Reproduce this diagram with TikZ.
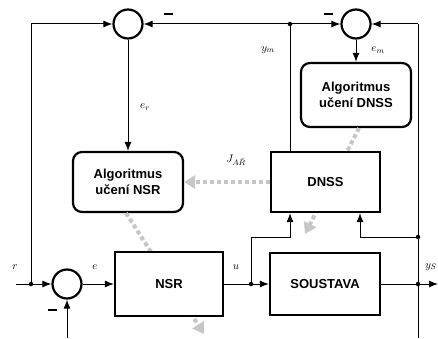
\documentclass[tikz,border=0pt]{standalone}
\usepackage{fontspec}
\setmainfont{Liberation Sans}
\usetikzlibrary{arrows.meta}

\begin{document}
\begin{tikzpicture}[x=1pt,y=1pt,
  blok/.style={draw,line width=2.2pt,fill=white,minimum width=108,minimum height=62,inner sep=0,align=center,font=\fontsize{13}{16}\bfseries\selectfont},
  ucblok/.style={blok,rounded corners=9pt,minimum width=110},
  soucet/.style={circle,draw,line width=2.2pt,minimum size=29,inner sep=0,fill=white},
  sig/.style={line width=1pt,-{Latex[length=9,width=7]}},
  spoj/.style={circle,fill,inner sep=0,minimum size=4.5},
  uceni/.style={line width=4pt,color=gray!45,dash pattern=on 4pt off 3pt,-{Triangle[length=11,width=13]}},
  popis/.style={font=\fontsize{11}{12}\selectfont},
  minus/.style={inner sep=0}]
\useasboundingbox (0,0) rectangle (438,338);
\node[soucet] (s1) at (128,314) {};
\node[soucet] (s2) at (356,314) {};
\node[soucet] (s3) at (67,54) {};
\node[ucblok,minimum height=60] (algNSR) at (128,156) {Algoritmus\\učení NSR};
\node[ucblok,minimum height=64] (algDNSS) at (356,243) {Algoritmus\\učení DNSS};
\coordinate (hrotNSR) at (204,4);
\coordinate (hrotDNSS) at (305,104);
\draw[uceni] ([xshift=-2pt]algNSR.south) -- (hrotNSR);
\draw[uceni] ([xshift=3pt]algDNSS.south) -- (hrotDNSS);
\node[blok,minimum height=60,minimum width=109] (DNSS) at (325.5,156) {DNSS};
\node[blok,minimum height=64] (NSR) at (169,54) {NSR};
\node[blok,minimum width=110] (SOUST) at (325,54) {SOUSTAVA};
\draw[uceni] (DNSS.west) -- (algNSR.east);
\coordinate (rin) at (16,54);
\coordinate (rj) at (31,54);
\coordinate (uj) at (251,54);
\coordinate (ysj) at (418,54);
\coordinate (yout) at (438,54);
\coordinate (yj2) at (418,101);
\coordinate (vstupL) at (290,101);
\coordinate (ymj) at (290,314);
\coordinate (pravyH) at (418,314);
\coordinate (pravyD) at (418,0);
\coordinate (dole) at (67,0);
\draw[sig] (rin) -- (s3.west);
\draw[sig] (rj) |- (s1.west);
\draw[sig] (dole) -- (s3.south);
\draw[sig] (s3.east) -- (NSR.west);
\draw (NSR.east) -- (uj);
\draw[sig] (uj) -- (SOUST.west);
\draw[sig] (uj) |- (vstupL) -- (vstupL |- DNSS.south);
\draw[sig] (SOUST.east) -- (yout);
\draw (pravyD) -- (pravyH);
\draw[sig] (pravyH) -- (s2.east);
\draw[sig] (yj2) -| ([xshift=34.5pt]DNSS.south);
\draw (ymj |- DNSS.north) -- (ymj);
\draw[sig] (ymj) -- (s1.east);
\draw[sig] (ymj) -- (s2.west);
\draw[sig] (s1.south) -- (algNSR.north);
\draw[sig] (s2.south) -- (algDNSS.north);
\node[spoj] (d1) at (rj) {};
\node[spoj] (d2) at (uj) {};
\node[spoj] (d3) at (ysj) {};
\node[spoj] (d4) at (yj2) {};
\node[spoj] (d5) at (ymj) {};
\node[minus] (m1) at (168,324) {\rule{9pt}{2.6pt}};
\node[minus] (m2) at (328,324) {\rule{9pt}{2.6pt}};
\node[minus] (m3) at (52,28) {\rule{9pt}{2.6pt}};
\node[popis] (lr) at (15,71) {$r$};
\node[popis] (le) at (95,71) {$e$};
\node[popis] (lu) at (236,71) {$u$};
\node[popis] (lys) at (431,71) {$y_S$};
\node[popis] (ler) at (145,231) {$e_r$};
\node[popis] (lym) at (268,288) {$y_m$};
\node[popis] (lem) at (378,288) {$e_m$};
\node[popis] (lj) at (236,178) {$J_{A\check{R}}$};
\end{tikzpicture}
\end{document}
